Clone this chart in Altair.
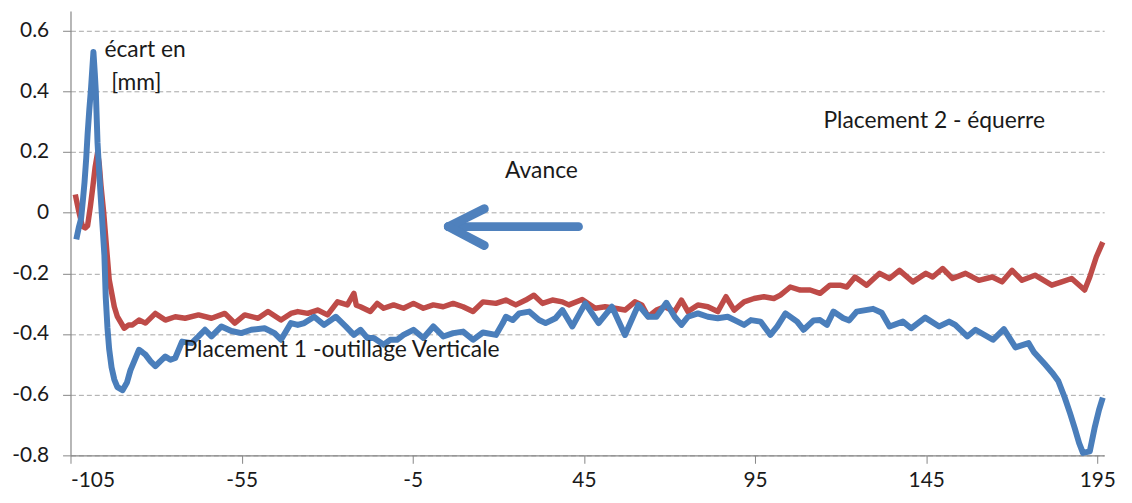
import altair as alt
import pandas as pd

# ---- data ----
blue_x = [-103.3, -102.6, -101.9, -101.3, -100.9, -100.4, -100.0, -99.5, -99.0, -98.6, -98.3,
          -97.9, -97.6, -97.1, -96.6, -96.1, -95.6, -95.1, -94.7, -94.2, -93.7, -93.0, -92.2,
          -91.3, -89.8, -88.5, -87.5, -86.4, -85.0, -84.0, -83.1, -81.6, -80.2, -78.8, -77.3,
          -75.8, -74.4, -72.4, -69.6, -67.6, -65.7, -63.8, -60.9, -58.0, -55.1, -52.2, -48.3,
          -45.4, -43.5, -40.6, -38.6, -36.7, -33.8, -30.9, -27.5, -24.6, -22.2, -20.3, -18.3,
          -16.4, -13.5, -11.6, -9.6, -7.7, -4.8, -1.9, 1.0, 3.9, 6.8, 9.7, 12.6, 15.5, 19.3,
          21.3, 22.2, 24.2, 26.1, 29.0, 31.9, 33.8, 36.7, 38.7, 41.6, 43.5, 45.4, 49.3, 53.2,
          57.0, 60.9, 63.8, 66.2, 69.1, 71.5, 73.5, 75.4, 78.3, 81.2, 84.1, 87.0, 89.9, 91.8,
          93.8, 96.6, 99.5, 101.5, 103.9, 107.3, 109.2, 112.1, 114.0, 116.0, 117.9, 120.8,
          122.5, 124.7, 129.5, 132.0, 134.3, 138.2, 140.6, 144.7, 148.8, 151.7, 153.5, 157.0,
          159.4, 164.5, 167.7, 171.1, 174.9, 176.5, 179.7, 182.0, 183.6, 185.5, 187.0, 188.4,
          189.7, 190.8, 192.8, 194.2, 195.5, 196.6]
blue_y = [-0.088, -0.05, -0.02, 0.05, 0.10, 0.18, 0.26, 0.34, 0.41, 0.48, 0.53,
          0.46, 0.40, 0.23, 0.13, 0.04, -0.05, -0.14, -0.28, -0.38, -0.45, -0.51, -0.55,
          -0.575, -0.585, -0.56, -0.52, -0.49, -0.452, -0.46, -0.468, -0.49, -0.506, -0.49, -0.474,
          -0.485, -0.479, -0.425, -0.43, -0.408, -0.386, -0.408, -0.375, -0.39, -0.397, -0.386, -0.381,
          -0.397, -0.419, -0.364, -0.37, -0.364, -0.343, -0.37, -0.343, -0.375, -0.403, -0.386, -0.413,
          -0.413, -0.435, -0.419, -0.419, -0.403, -0.386, -0.413, -0.375, -0.408, -0.397, -0.392, -0.419, -0.395, -0.403,
          -0.364, -0.343, -0.354, -0.332, -0.326, -0.354, -0.364, -0.348, -0.321, -0.375, -0.337, -0.299, -0.364, -0.31,
          -0.403, -0.304, -0.343, -0.343, -0.297, -0.343, -0.37, -0.343, -0.332, -0.343, -0.348, -0.343, -0.359, -0.37,
          -0.354, -0.359, -0.403, -0.375, -0.332, -0.359, -0.386, -0.355, -0.354, -0.37, -0.326, -0.348,
          -0.355, -0.326, -0.317, -0.33, -0.375, -0.359, -0.381, -0.346, -0.375, -0.359, -0.37, -0.408,
          -0.386, -0.419, -0.384, -0.444, -0.43, -0.46, -0.5, -0.53, -0.555, -0.61, -0.66, -0.71,
          -0.76, -0.792, -0.787, -0.71, -0.65, -0.61]

red_x = [-103.6, -102.5, -101.5, -100.7, -100.0, -99.2, -98.5, -97.8, -97.1, -96.6, -96.1,
         -95.3, -94.65, -93.7, -92.2, -91.3, -89.3, -88.0, -86.9, -85.0, -83.1, -80.2, -77.3,
         -74.4, -71.5, -67.6, -63.8, -59.9, -57.0, -54.1, -50.2, -47.3, -43.5, -40.6, -38.6,
         -35.7, -32.8, -29.9, -27.0, -24.1, -22.2, -21.5, -20.3, -17.4, -15.4, -13.5, -10.6,
         -7.7, -4.8, -1.9, 1.0, 3.9, 6.8, 9.7, 12.6, 15.5, 19.3, 22.2, 25.1, 28.0, 30.4, 32.9,
         35.8, 38.7, 40.6, 44.5, 48.3, 51.2, 54.1, 57.0, 59.9, 61.9, 63.8, 66.2, 68.6, 71.5,
         73.5, 75.4, 78.3, 81.2, 84.1, 86.5, 88.9, 91.8, 94.7, 97.6, 100.5, 102.4, 105.3,
         108.2, 111.1, 114.0, 116.9, 119.8, 121.8, 124.2, 127.6, 131.4, 134.3, 137.2, 141.1,
         144.9, 146.9, 149.8, 152.7, 156.5, 160.4, 164.3, 167.2, 170.1, 173.0, 176.8, 181.7,
         184.6, 187.5, 191.3, 192.8, 194.7, 196.6]
red_y = [0.06, 0.0, -0.045, -0.05, -0.043, 0.02, 0.083, 0.15, 0.197, 0.16, 0.09,
         0.0, -0.09, -0.22, -0.31, -0.343, -0.381, -0.37, -0.37, -0.354, -0.364, -0.332, -0.354,
         -0.343, -0.348, -0.337, -0.348, -0.332, -0.364, -0.337, -0.348, -0.326, -0.354, -0.332, -0.326,
         -0.332, -0.321, -0.337, -0.294, -0.304, -0.266, -0.305, -0.31, -0.326, -0.299, -0.315, -0.304,
         -0.315, -0.299, -0.315, -0.304, -0.31, -0.299, -0.31, -0.326, -0.294, -0.299, -0.288, -0.304, -0.288, -0.272, -0.299,
         -0.288, -0.294, -0.304, -0.286, -0.315, -0.31, -0.315, -0.321, -0.294, -0.304, -0.343, -0.321, -0.31, -0.326,
         -0.288, -0.326, -0.304, -0.31, -0.326, -0.277, -0.321, -0.294, -0.283, -0.277, -0.283, -0.272, -0.245,
         -0.255, -0.255, -0.266, -0.239, -0.239, -0.245, -0.212, -0.239, -0.2, -0.217, -0.19, -0.228,
         -0.2, -0.212, -0.184, -0.217, -0.2, -0.223, -0.212, -0.228, -0.19, -0.223, -0.206, -0.239,
         -0.228, -0.217, -0.255, -0.212, -0.146, -0.097]

x_ticks = [-105, -55, -5, 45, 95, 145, 195]
y_ticks = [-0.8, -0.6, -0.4, -0.2, 0, 0.2, 0.4, 0.6]

note_text = ["écart en", "[mm]", "Placement 2 - équerre", "Avance", "Placement 1 -outillage Verticale"]
note_x = [-95.1, -93.1, 115.0, 32.6, -72.0]
note_y = [0.537, 0.426, 0.301, 0.137, -0.452]
note_align = ["left", "left", "left", "center", "left"]

# arrow ("Avance") segments in data units
arrow_x = [43.4, 5.4, 5.4]
arrow_x2 = [5.4, 15.9, 15.9]
arrow_y = [-0.046, -0.046, -0.046]
arrow_y2 = [-0.046, 0.013, -0.108]

BLUE = "#4A7EBB"
RED = "#BE4B48"
FONT = "Lato"

blue = pd.DataFrame({"x": blue_x, "y": blue_y, "i": range(len(blue_x))})
red = pd.DataFrame({"x": red_x, "y": red_y, "i": range(len(red_x))})
notes = pd.DataFrame({"t": note_text, "x": note_x, "y": note_y, "a": note_align})
arrow = pd.DataFrame({"x": arrow_x, "x2": arrow_x2, "y": arrow_y, "y2": arrow_y2})

xs = alt.Scale(domain=[-105, 197], nice=False, zero=False)
ys = alt.Scale(domain=[-0.8, 0.665], nice=False, zero=False)

X = alt.X("x:Q", scale=xs, axis=alt.Axis(values=x_ticks, labelExpr="'' + datum.value", grid=False,
                                          tickSize=8, labelPadding=6, title=None))
Y = alt.Y("y:Q", scale=ys, axis=alt.Axis(values=y_ticks, labelExpr="'' + datum.value", grid=True,
                                          tickSize=8, labelPadding=14, title=None))

red_line = alt.Chart(red).mark_line(color=RED, strokeWidth=5.5, strokeJoin="round").encode(
    x=X, y=Y, order="i:Q")
blue_line = alt.Chart(blue).mark_line(color=BLUE, strokeWidth=6, strokeJoin="round").encode(
    x=alt.X("x:Q", scale=xs), y=alt.Y("y:Q", scale=ys), order="i:Q")

arrow_layer = alt.Chart(arrow).mark_rule(color="#4F81BD", strokeWidth=9, strokeCap="round").encode(
    x=alt.X("x:Q", scale=xs), x2="x2:Q", y=alt.Y("y:Q", scale=ys), y2="y2:Q")

text_left = alt.Chart(notes).transform_filter("datum.a == 'left'").mark_text(
    align="left", baseline="middle", font=FONT, fontSize=23, color="#1a1a1a").encode(
    x=alt.X("x:Q", scale=xs), y=alt.Y("y:Q", scale=ys), text="t:N")
text_center = alt.Chart(notes).transform_filter("datum.a == 'center'").mark_text(
    align="center", baseline="middle", font=FONT, fontSize=23, color="#1a1a1a").encode(
    x=alt.X("x:Q", scale=xs), y=alt.Y("y:Q", scale=ys), text="t:N")

chart = alt.layer(red_line, blue_line, arrow_layer, text_left, text_center).properties(
    width=1042, height=448,
    autosize="none",
    padding={"left": 63, "top": 1, "right": 20, "bottom": 40},
).configure_view(stroke=None).configure_axis(
    domainColor="#868686", tickColor="#868686", gridColor="#a6a6a6", gridDash=[5, 3],
    gridWidth=1, labelFont=FONT, labelFontSize=21, labelColor="#1a1a1a", domainWidth=1.2,
)

chart.save("out.html", embed_options={"renderer": "svg", "actions": False})
